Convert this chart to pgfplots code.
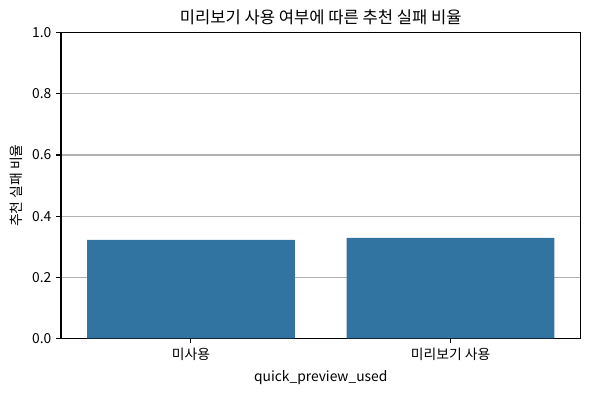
\documentclass[border=0pt]{standalone}
\usepackage{fontspec}
\setmainfont{Noto Sans CJK KR}
\usepackage{pgfplots}
\pgfplotsset{compat=1.18}
\definecolor{barblue}{HTML}{3274A1}
\definecolor{gridgray}{HTML}{B0B0B0}
\begin{document}
\begin{tikzpicture}
\begin{axis}[
  scale only axis,
  width=375.8pt, height=221pt,
  xmin=-0.5, xmax=1.5,
  ymin=0, ymax=1,
  xtick={0,1},
  xticklabels={미사용, 미리보기 사용},
  ytick={0,0.2,0.4,0.6,0.8,1.0},
  yticklabel style={/pgf/number format/fixed, /pgf/number format/fixed zerofill, /pgf/number format/precision=1},
  /pgf/number format/assume math mode=true,
  ymajorgrids,
  grid style={gridgray, line width=0.8pt},
  axis line style={line width=0.8pt},
  tick style={black, line width=0.8pt},
  tick align=outside,
  major tick length=3.5pt,
  xtick pos=bottom, ytick pos=left,
  ticklabel style={font=\fontsize{10}{12}\selectfont},
  xlabel={quick\_preview\_used},
  ylabel={추천 실패 비율},
  label style={font=\fontsize{10}{12}\selectfont},
  title={미리보기 사용 여부에 따른 추천 실패 비율},
  title style={font=\fontsize{12}{14}\selectfont, yshift=-4pt},
]
\addplot[ybar, bar width=0.8, fill=barblue, draw=none, bar shift=0pt] coordinates {(0,0.322) (1,0.329)};
\end{axis}
\path ([xshift=-4pt,yshift=-5pt]current bounding box.south west) ([xshift=6.5pt,yshift=4pt]current bounding box.north east);
\end{tikzpicture}
\end{document}
